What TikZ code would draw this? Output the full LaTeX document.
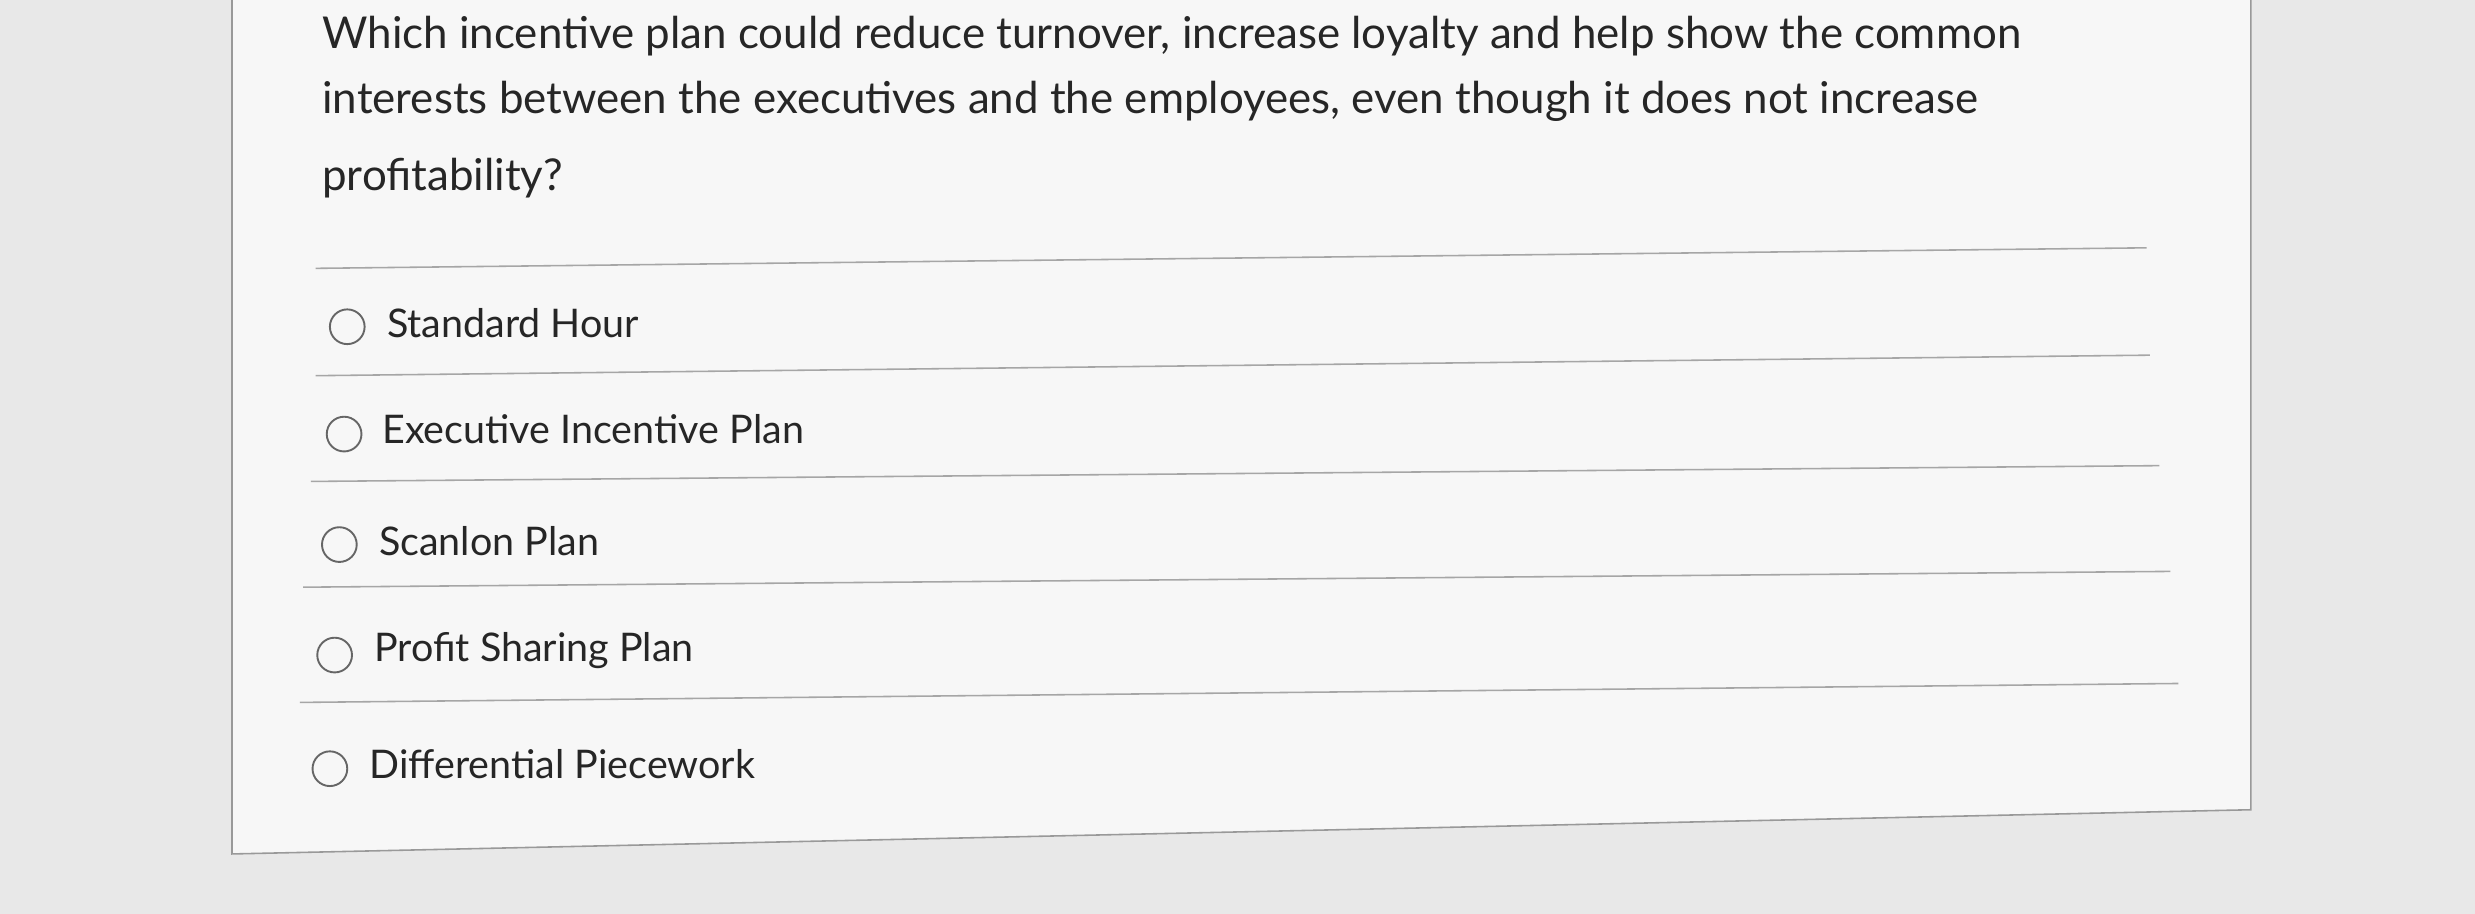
\documentclass[tikz,border=0pt]{standalone}
\usepackage{fontspec}
\setmainfont{Lato}
\begin{document}
\begin{tikzpicture}[x=1pt,y=-1pt,
  opt/.style={anchor=west,font=\fontsize{25}{28}\selectfont,text=black!85,inner sep=0},
  ql/.style={anchor=base west,font=\fontsize{27.8}{30}\selectfont,text=black!85,inner sep=0},
  radio/.style={circle,draw=black!60,line width=1.2pt,minimum size=22pt,inner sep=0},
  sep/.style={draw=black!35,line width=1pt}]
\fill[black!9] (0,0) rectangle (1568,579);
\useasboundingbox (0,0) rectangle (1568,579);
\fill[black!3] (147,-5) -- (1426,-5) -- (1426,513) -- (147,541) -- cycle;
\draw[black!40,line width=1pt] (147,-5) -- (147,541) -- (1426,513) -- (1426,-5);
\node[ql] (q1) at (204,31) {Which incentive plan could reduce turnover, increase loyalty and help show the common};
\node[ql] (q2) at (204,72) {interests between the executives and the employees, even though it does not increase};
\node[ql] (q3) at (204,121) {profitability?};
\coordinate (s0a) at (200,170); \coordinate (s0b) at (1360,157);
\coordinate (s1a) at (200,238); \coordinate (s1b) at (1362,225);
\coordinate (s2a) at (197,305); \coordinate (s2b) at (1368,295);
\coordinate (s3a) at (192,372); \coordinate (s3b) at (1375,362);
\coordinate (s4a) at (190,445); \coordinate (s4b) at (1380,433);
\foreach \i in {0,...,4}{\draw[sep] (s\i a) -- (s\i b);}
\node[radio] (r1) at (220,207) {}; \node[opt] (t1) at (245,205) {Standard Hour};
\node[radio] (r2) at (218,275) {}; \node[opt] (t2) at (242,272) {Executive Incentive Plan};
\node[radio] (r3) at (215,345) {}; \node[opt] (t3) at (240,343) {Scanlon Plan};
\node[radio] (r4) at (212,415) {}; \node[opt] (t4) at (237,412) {Profit Sharing Plan};
\node[radio] (r5) at (209,487) {}; \node[opt] (t5) at (234,484) {Differential Piecework};
\end{tikzpicture}
\end{document}
